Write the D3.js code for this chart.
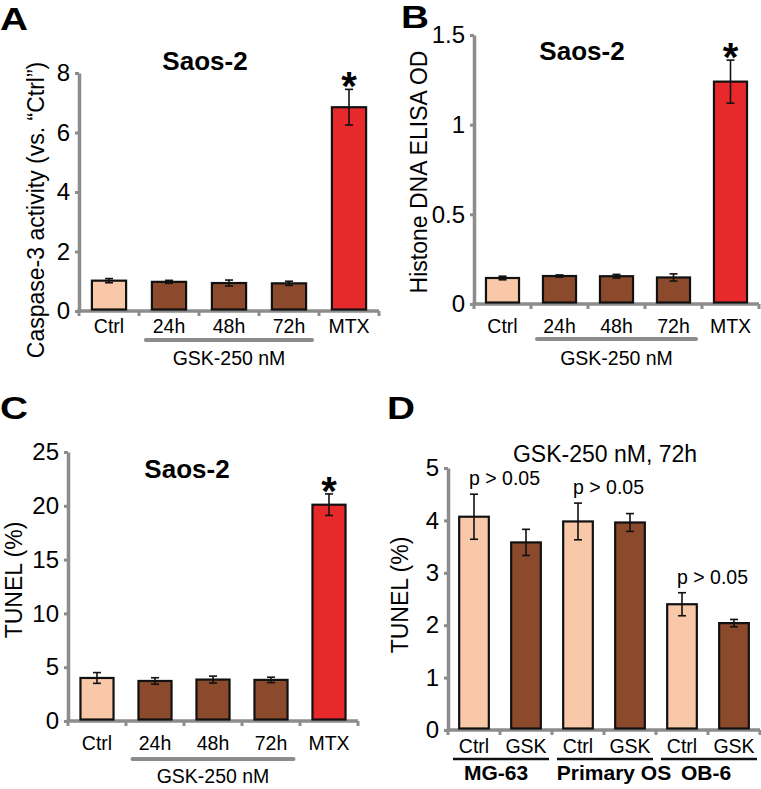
<!DOCTYPE html>
<html>
<head>
<meta charset="utf-8">
<script src="https://cdn.jsdelivr.net/npm/d3@7"></script>
<style>
  body { margin: 0; background: #fff; }
  svg text { font-family: "Liberation Sans", Arial, sans-serif; fill: #000; }
</style>
</head>
<body>
<div class="root"></div>
<script>
// ---- data ----
const saosGroups = ["Ctrl", "24h", "48h", "72h", "MTX"];
const saosKinds = ["ctrl", "gsk", "gsk", "gsk", "mtx"];

const caspaseMean = [1.02, 0.98, 0.94, 0.93, 6.85];
const caspaseErr = [0.07, 0.05, 0.1, 0.07, 0.6];
const caspaseTicks = [0, 2, 4, 6, 8];

const histoneMean = [0.145, 0.156, 0.155, 0.148, 1.24];
const histoneErr = [0.01, 0.006, 0.01, 0.02, 0.12];
const histoneTicks = [0, 0.5, 1, 1.5];

const tunelMean = [4.0, 3.72, 3.85, 3.82, 20.1];
const tunelErr = [0.5, 0.3, 0.32, 0.25, 1.0];
const tunelTicks = [0, 5, 10, 15, 20, 25];

const cellBars = ["MG-63 Ctrl", "MG-63 GSK", "Primary OS Ctrl", "Primary OS GSK", "OB-6 Ctrl", "OB-6 GSK"];
const cellBarLabels = ["Ctrl", "GSK", "Ctrl", "GSK", "Ctrl", "GSK"];
const cellKinds = ["ctrl", "gsk", "ctrl", "gsk", "ctrl", "gsk"];
const cellLines = ["MG-63", "Primary OS", "OB-6"];
const cellMean = [4.07, 3.58, 3.98, 3.96, 2.4, 2.04];
const cellErr = [0.43, 0.25, 0.35, 0.17, 0.22, 0.07];
const cellTicks = [0, 1, 2, 3, 4, 5];

const w = 761;
const h = 789;
const fills = { ctrl: "#f8c8a8", gsk: "#8b4a2b", mtx: "#e8292b" };
const axisGrey = "#8c8c8c";

const svg = d3.select(".root")
              .append("svg")
              .attr("width", w)
              .attr("height", h);

// one bar panel
function drawPanel(o) {
  const x = d3.scaleBand()
              .domain(o.cats)
              .range([o.x0, o.x1])
              .paddingInner(o.pad)
              .paddingOuter(o.pad / 2);
  const y = d3.scaleLinear()
              .domain([0, d3.max(o.ticks)])
              .range([o.y0, o.y1]);
  const bw = x.bandwidth();
  const step = x.step();
  const rows = o.cats.map((c, i) => ({ c: c, v: o.mean[i], e: o.err[i], k: o.kinds[i], lab: o.labels[i] }));

  // y axis
  const yAxis = d3.axisLeft(y)
                  .tickValues(o.ticks)
                  .tickSize(4)
                  .tickSizeOuter(0)
                  .tickPadding(5)
                  .tickFormat(d3.format("~g"));
  const gy = svg.append("g")
                .attr("transform", "translate(" + o.x0 + ",0)")
                .call(yAxis);
  gy.select(".domain").attr("stroke", axisGrey).attr("stroke-width", 3.5);
  gy.selectAll(".tick line").attr("stroke", axisGrey).attr("stroke-width", 3);
  gy.selectAll(".tick text").attr("font-size", 24).attr("font-family", null);

  // x axis line with small ticks at the band edges
  svg.append("line")
     .attr("x1", o.x0 - 1.5).attr("x2", o.x1)
     .attr("y1", o.y0).attr("y2", o.y0)
     .attr("stroke", axisGrey).attr("stroke-width", 3.5);
  svg.selectAll(null)
     .data(d3.range(o.cats.length + 1))
     .enter()
     .append("line")
     .attr("x1", (d) => o.x0 + d * step)
     .attr("x2", (d) => o.x0 + d * step)
     .attr("y1", o.y0).attr("y2", o.y0 + 5)
     .attr("stroke", axisGrey).attr("stroke-width", 3);

  // bars
  svg.selectAll(null)
     .data(rows)
     .enter()
     .append("rect")
     .attr("x", (d) => x(d.c))
     .attr("y", (d) => y(d.v))
     .attr("width", bw)
     .attr("height", (d) => o.y0 - 1.5 - y(d.v))
     .attr("fill", (d) => fills[d.k])
     .attr("stroke", "#111")
     .attr("stroke-width", 2.2);

  // error bars
  const eb = svg.selectAll(null)
                .data(rows)
                .enter()
                .append("g")
                .attr("stroke", "#111")
                .attr("stroke-width", 1.6);
  eb.append("line")
    .attr("x1", (d) => x(d.c) + bw / 2).attr("x2", (d) => x(d.c) + bw / 2)
    .attr("y1", (d) => y(d.v - d.e)).attr("y2", (d) => y(d.v + d.e));
  eb.append("line")
    .attr("x1", (d) => x(d.c) + bw / 2 - 4).attr("x2", (d) => x(d.c) + bw / 2 + 4)
    .attr("y1", (d) => y(d.v + d.e)).attr("y2", (d) => y(d.v + d.e));
  eb.append("line")
    .attr("x1", (d) => x(d.c) + bw / 2 - 4).attr("x2", (d) => x(d.c) + bw / 2 + 4)
    .attr("y1", (d) => y(d.v - d.e)).attr("y2", (d) => y(d.v - d.e));

  // category labels
  svg.selectAll(null)
     .data(rows)
     .enter()
     .append("text")
     .attr("x", (d) => x(d.c) + bw / 2)
     .attr("y", o.y0 + o.labelDy)
     .attr("text-anchor", "middle")
     .attr("font-size", 19.5)
     .text((d) => d.lab);

  // y axis title
  svg.append("text")
     .attr("text-anchor", "middle")
     .attr("transform", "translate(" + o.ylabX + "," + o.ylabY + ")rotate(-90)")
     .attr("font-size", 23)
     .text(o.ylabel);

  // panel letter (the original lettering is wide, so stretch it a bit)
  svg.append("text")
     .attr("transform", "translate(" + o.letterX + "," + o.letterY + ")scale(1.25,1)")
     .attr("font-size", 31)
     .attr("font-weight", "bold")
     .text(o.letter);

  return { x: x, y: y, bw: bw, step: step, rows: rows };
}

// Saos-2 panels share the "GSK-250 nM" bracket and the MTX star
function saosExtras(p, o) {
  const x0 = p.x("24h") - 6;
  const x1 = p.x("72h") + p.bw + 6;
  svg.append("line")
     .attr("x1", x0).attr("x2", x1)
     .attr("y1", o.y0 + o.lineDy).attr("y2", o.y0 + o.lineDy)
     .attr("stroke", axisGrey).attr("stroke-width", 4)
     .attr("stroke-linecap", "round");
  svg.append("text")
     .attr("x", (x0 + x1) / 2)
     .attr("y", o.y0 + o.gskDy)
     .attr("text-anchor", "middle")
     .attr("font-size", 19.5)
     .text("GSK-250 nM");
  svg.append("text")
     .attr("x", o.titleX).attr("y", o.titleY)
     .attr("text-anchor", "middle")
     .attr("font-size", 26)
     .attr("font-weight", "bold")
     .text("Saos-2");
  const last = p.rows[p.rows.length - 1];
  svg.append("text")
     .attr("x", p.x(last.c) + p.bw / 2)
     .attr("y", p.y(last.v + last.e) + 11)
     .attr("text-anchor", "middle")
     .attr("font-size", 40)
     .attr("font-weight", "bold")
     .text("*");
}

// A
const optA = {
  cats: saosGroups, labels: saosGroups, kinds: saosKinds,
  mean: caspaseMean, err: caspaseErr, ticks: caspaseTicks,
  x0: 79, x1: 379, y0: 311, y1: 73, pad: 0.43, labelDy: 22,
  ylabel: "Caspase-3 activity (vs. \u201cCtrl\u201d)", ylabX: 44, ylabY: 210,
  letter: "A", letterX: 0, letterY: 30,
  lineDy: 29, gskDy: 54, titleX: 205, titleY: 70
};
saosExtras(drawPanel(optA), optA);

// B
const optB = {
  cats: saosGroups, labels: saosGroups, kinds: saosKinds,
  mean: histoneMean, err: histoneErr, ticks: histoneTicks,
  x0: 474, x1: 759, y0: 304, y1: 35, pad: 0.42, labelDy: 29,
  ylabel: "Histone DNA ELISA OD", ylabX: 427, ylabY: 172,
  letter: "B", letterX: 401, letterY: 28,
  lineDy: 35, gskDy: 61, titleX: 582, titleY: 60
};
saosExtras(drawPanel(optB), optB);

// C
const optC = {
  cats: saosGroups, labels: saosGroups, kinds: saosKinds,
  mean: tunelMean, err: tunelErr, ticks: tunelTicks,
  x0: 68, x1: 358, y0: 721, y1: 452, pad: 0.43, labelDy: 29,
  ylabel: "TUNEL (%)", ylabX: 22, ylabY: 580,
  letter: "C", letterX: 0, letterY: 419,
  lineDy: 38, gskDy: 62, titleX: 187, titleY: 478
};
saosExtras(drawPanel(optC), optC);

// D
const optD = {
  cats: cellBars, labels: cellBarLabels, kinds: cellKinds,
  mean: cellMean, err: cellErr, ticks: cellTicks,
  x0: 448, x1: 760, y0: 730, y1: 468, pad: 0.43, labelDy: 23,
  ylabel: "TUNEL (%)", ylabX: 408, ylabY: 595,
  letter: "D", letterX: 387, letterY: 419
};
const pD = drawPanel(optD);

svg.append("text")
   .attr("x", 605).attr("y", 462)
   .attr("text-anchor", "middle")
   .attr("font-size", 23)
   .text("GSK-250 nM, 72h");

const lineShift = [-5, 9, -3];
cellLines.forEach((name, i) => {
  const a = optD.x0 + 2 * i * pD.step + 5;
  const b = optD.x0 + (2 * i + 2) * pD.step - 3;
  svg.append("line")
     .attr("x1", a).attr("x2", b)
     .attr("y1", 759).attr("y2", 759)
     .attr("stroke", "#111").attr("stroke-width", 2.5);
  svg.append("text")
     .attr("x", (a + b) / 2 + lineShift[i])
     .attr("y", 780)
     .attr("text-anchor", "middle")
     .attr("font-size", 21)
     .attr("font-weight", "bold")
     .text(name);
  // p value over the control bar of each pair
  const ctrl = pD.rows[2 * i];
  svg.append("text")
     .attr("x", pD.x(ctrl.c) + pD.bw / 2 - 5)
     .attr("y", pD.y(ctrl.v + ctrl.e) - 9)
     .attr("font-size", 19.5)
     .text("p > 0.05");
});
</script>
</body>
</html>
